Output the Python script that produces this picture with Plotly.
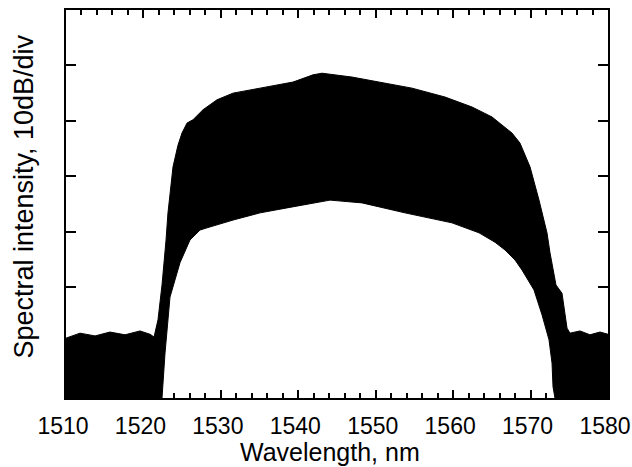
import plotly.graph_objects as go

# Upper envelope of the spectrum (wavelength nm, relative dB)
upper_wl = [1510.0, 1511.81, 1513.75, 1515.68, 1517.62, 1519.56, 1520.85, 1521.37, 1521.88,
            1522.40, 1522.92, 1523.17, 1523.82, 1524.46, 1524.98, 1525.63, 1526.40, 1527.69,
            1529.50, 1531.57, 1535.06, 1539.32, 1541.90, 1543.06, 1546.94, 1550.42, 1554.69,
            1558.95, 1562.44, 1565.02, 1567.60, 1568.63, 1569.93, 1571.09, 1572.12, 1572.51,
            1573.28, 1574.06, 1574.71, 1575.09, 1576.38, 1577.67, 1578.97, 1580.0]
upper_db = [-59.2, -58.3, -58.8, -58.1, -58.6, -57.9, -58.5, -59.0, -55.9,
            -49.6, -41.5, -36.6, -28.3, -24.4, -22.2, -20.4, -19.8, -18.0,
            -16.2, -15.0, -14.1, -13.0, -11.7, -11.4, -12.1, -13.0, -14.1,
            -15.7, -17.5, -19.3, -22.2, -24.0, -28.3, -34.3, -40.2, -43.8,
            -49.6, -51.1, -57.4, -58.3, -57.9, -58.6, -58.1, -58.5]

# Lower envelope of the spectrum
lower_wl = [1510.0, 1522.40, 1522.79, 1523.43, 1524.72, 1526.01, 1527.31, 1528.21, 1531.57,
            1535.06, 1538.54, 1541.90, 1544.10, 1548.23, 1553.78, 1559.85, 1563.34, 1565.41,
            1566.70, 1567.99, 1568.89, 1570.44, 1571.48, 1572.38, 1572.77, 1572.90, 1573.15,
            1580.0]
lower_db = [-70.0, -70.0, -61.9, -51.8, -45.6, -41.5, -39.7, -39.3, -37.9,
            -36.6, -35.7, -34.8, -34.3, -34.8, -36.6, -38.4, -40.2, -41.9,
            -43.3, -45.1, -46.9, -50.5, -55.0, -59.5, -63.7, -68.0, -70.0,
            -70.0]

x_ticks = [1510, 1520, 1530, 1540, 1550, 1560, 1570, 1580]

poly_x = upper_wl + lower_wl[::-1]
poly_y = upper_db + lower_db[::-1]

fig = go.Figure()
fig.add_trace(go.Scatter(x=poly_x, y=poly_y, mode="lines", fill="toself",
                         fillcolor="black", line=dict(color="black", width=1),
                         hoverinfo="skip", showlegend=False))

fam = "Liberation Sans, Arial, sans-serif"
tick_font = dict(family=fam, size=23, color="black")
xtitle_font = dict(family=fam, size=25, color="black")
ytitle_font = dict(family=fam, size=27, color="black")

fig.update_layout(
    width=632, height=467,
    margin=dict(l=66, r=24, t=10, b=69),
    paper_bgcolor="white", plot_bgcolor="white",
    font=tick_font,
    xaxis=dict(range=[1510, 1580], tickvals=x_ticks, ticktext=[str(t) for t in x_ticks],
               ticks="inside", ticklen=8, tickwidth=2, tickcolor="black",
               minor=dict(dtick=2, ticks="inside", ticklen=5, tickwidth=1.5, tickcolor="black"),
               showline=True, linewidth=2, linecolor="black", mirror="ticks",
               showgrid=False, zeroline=False, tickfont=tick_font, automargin=False,
               ticklabeloverflow="allow", ticklabelstandoff=6, ticklabelshift=-3),
    yaxis=dict(range=[-70, 0], dtick=10, ticks="inside", ticklen=10, tickwidth=2,
               tickcolor="black", showticklabels=False, automargin=False,
               showline=True, linewidth=2, linecolor="black", mirror="ticks",
               showgrid=False, zeroline=False),
    annotations=[
        dict(text="Wavelength, nm", xref="paper", yref="paper", x=0.487, y=-0.139,
             showarrow=False, font=xtitle_font, xanchor="center", yanchor="middle"),
        dict(text="Spectral intensity, 10dB/div", xref="paper", yref="paper",
             x=-0.0775, y=0.519, textangle=-90, showarrow=False, font=ytitle_font,
             xanchor="center", yanchor="middle"),
    ],
)

fig.write_html("out.html")
